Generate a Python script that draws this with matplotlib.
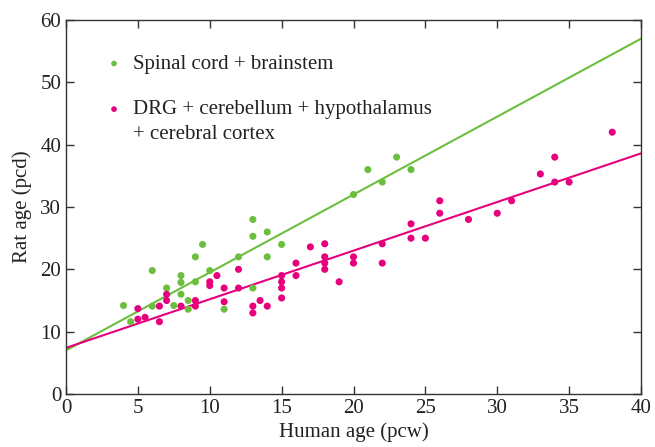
import numpy as np
import matplotlib
matplotlib.use("Agg")
import matplotlib.pyplot as plt
from matplotlib.legend_handler import HandlerPathCollection

plt.rcParams['font.family'] = ['Liberation Serif', 'DejaVu Serif']

# Spinal cord + brainstem (human pcw, rat pcd)
green_x = [4, 4.5, 6, 6, 7, 7.5, 8, 8, 8, 8.5, 8.5, 9, 9, 9.5, 10, 11, 12, 13, 13, 13,
           14, 14, 15, 20, 21, 22, 23, 24]
green_y = [14.2, 11.6, 19.8, 14.1, 17, 14.2, 19, 17.9, 16, 15, 13.6, 22, 18, 24, 19.8, 13.6,
           22, 28, 25.3, 17, 26, 22, 24, 32, 36, 34, 38, 36]

# DRG + cerebellum + hypothalamus + cerebral cortex
pink_x = [5, 5, 5.5, 6.5, 6.5, 7, 7, 8, 9, 9, 10, 10, 10.5, 11, 11, 12, 12, 13, 13, 13.5,
          14, 15, 15, 15, 15, 16, 16, 17, 18, 18, 18, 18, 19, 20, 20, 22, 22, 24, 24, 25,
          26, 26, 28, 30, 31, 33, 34, 34, 35, 38]
pink_y = [13.7, 12, 12.3, 14.1, 11.6, 16, 15, 14.1, 15, 14.1, 18, 17.4, 19, 17, 14.8, 20, 17,
          14.1, 13, 15, 14.1, 19, 18, 17, 15.4, 21, 19, 23.6, 24.1, 22, 21, 20, 18, 22, 21,
          24.1, 21, 27.3, 25, 25, 31, 29, 28, 29, 31, 35.3, 38, 34, 34, 42]

# regression lines (intercept, slope)
green_fit = (7.0, 1.25)
pink_fit = (7.4, 0.78)

green_col = '#6cbf3e'
pink_col = '#e6007e'

fig = plt.figure(figsize=(6.55, 4.47), dpi=100)
ax = fig.add_axes([66/655, 53/447, 575/655, 374/447])

xx = np.array([0, 40])
ax.plot(xx, green_fit[0] + green_fit[1]*xx, color=green_col, lw=1.5, zorder=2)
ax.plot(xx, pink_fit[0] + pink_fit[1]*xx, color=pink_col, lw=1.5, zorder=2)

g = ax.scatter(green_x, green_y, s=26, color=green_col, edgecolors='none', zorder=3,
               label='Spinal cord + brainstem')
p = ax.scatter(pink_x, pink_y, s=26, color=pink_col, edgecolors='none', zorder=3,
               label='DRG + cerebellum + hypothalamus\n+ cerebral cortex')

ax.set_xlim(0, 40)
ax.set_ylim(0, 60)
ax.set_xticks(range(0, 41, 5))
ax.set_yticks(range(0, 61, 10))
ax.tick_params(direction='in', top=True, right=True, length=6, width=1,
               labelsize=15, colors='#333333', labelcolor='#222222')
for sp in ax.spines.values():
    sp.set_color('#333333')
    sp.set_linewidth(1)

ax.set_xlabel('Human age (pcw)', fontsize=15, color='#222222', labelpad=3)
ax.set_ylabel('Rat age (pcd)', fontsize=15, color='#222222', labelpad=6)

# put the pink legend dot next to the first line of its label
leg = ax.legend(loc='upper left', frameon=False, fontsize=15, markerscale=0.8,
                handlelength=0.8, handletextpad=0.5, labelspacing=1.25,
                borderpad=0, borderaxespad=0, bbox_to_anchor=(0.069, 0.908),
                handler_map={p: HandlerPathCollection(yoffsets=[1.35])})
for t in leg.get_texts():
    t.set_linespacing(1.4)
    t.set_color('#222222')

fig.savefig('out.png', dpi=100)
